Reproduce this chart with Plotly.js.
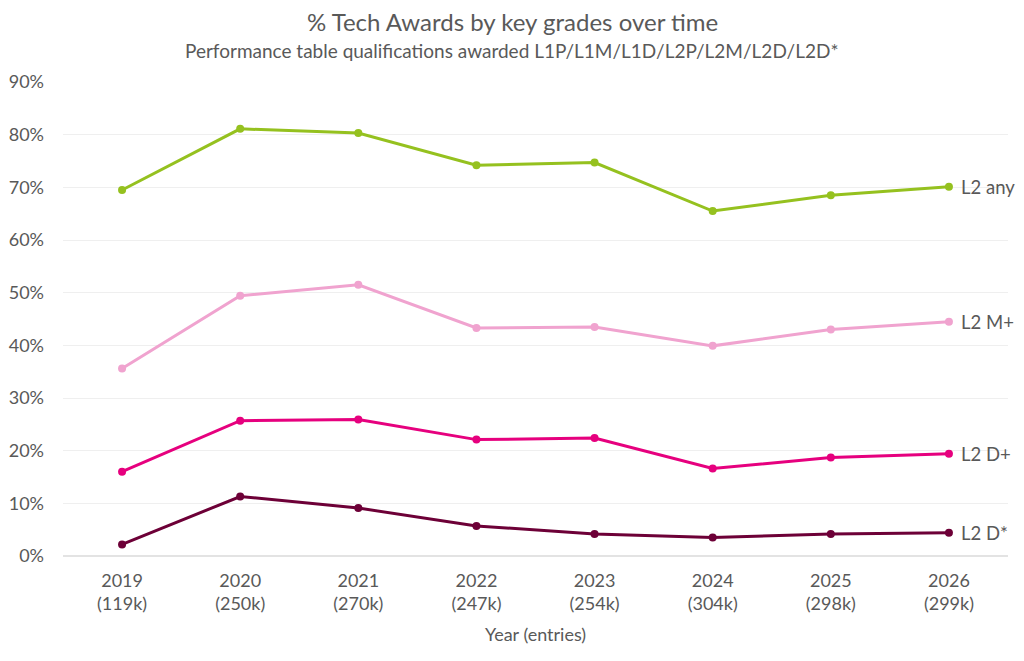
<!DOCTYPE html>
<html>
<head>
<meta charset="utf-8">
<script src="https://cdn.plot.ly/plotly-3.0.1.min.js"></script>
<style>
  html, body { margin: 0; padding: 0; background: #fff; }
  #chart { width: 1024px; height: 661px; }
</style>
</head>
<body>
<div id="chart"></div>
<script>
const years = ['2019', '2020', '2021', '2022', '2023', '2024', '2025', '2026'];
const entries = ['119k', '250k', '270k', '247k', '254k', '304k', '298k', '299k'];

const l2Any = [0.695, 0.811, 0.803, 0.742, 0.747, 0.655, 0.685, 0.701];
const l2Merit = [0.356, 0.494, 0.515, 0.433, 0.435, 0.399, 0.430, 0.445];
const l2Dist = [0.160, 0.257, 0.259, 0.221, 0.224, 0.166, 0.187, 0.194];
const l2DistStar = [0.022, 0.113, 0.091, 0.057, 0.042, 0.035, 0.042, 0.044];

const seriesNames = ['L2 any', 'L2 M+', 'L2 D+', 'L2 D*'];
const seriesValues = [l2Any, l2Merit, l2Dist, l2DistStar];
const seriesColors = ['#95c11f', '#f0a3cf', '#e6007e', '#6d0037'];

const font = 'Lato, "Open Sans", sans-serif';
const textGrey = '#595959';

const traces = seriesValues.map((vals, i) => ({
    x: years,
    y: vals,
    type: 'scatter',
    mode: 'lines+markers',
    name: seriesNames[i],
    line: { color: seriesColors[i], width: 3 },
    marker: { color: seriesColors[i], size: 8 },
    cliponaxis: false,
    hoverinfo: 'skip'
}));

// series names at the end of each line (x as category index)
const lastIdx = years.length - 1;
const labels = seriesValues.map((vals, i) => ({
    xref: 'x',
    yref: 'y',
    x: lastIdx,
    y: vals[lastIdx],
    text: seriesNames[i],
    showarrow: false,
    xanchor: 'left',
    yanchor: 'middle',
    xshift: 10,
    font: { family: font, size: 18.5, color: textGrey }
}));

// titles centred on the page, not on the plot area
const pageCentre = (512 - 63) / 945;
const titles = [
    {
        xref: 'paper', yref: 'paper', x: pageCentre, y: 1.1266,
        xanchor: 'center', yanchor: 'middle', showarrow: false,
        text: '% Tech Awards by key grades over time',
        font: { family: font, size: 24, color: textGrey }
    },
    {
        xref: 'paper', yref: 'paper', x: pageCentre, y: 1.0675,
        xanchor: 'center', yanchor: 'middle', showarrow: false,
        text: 'Performance table qualifications awarded L1P/L1M/L1D/L2P/L2M/L2D/L2D*',
        font: { family: font, size: 19, color: textGrey }
    }
];

const layout = {
    width: 1024,
    height: 661,
    margin: { t: 82, b: 105, l: 63, r: 16 },
    paper_bgcolor: '#fff',
    plot_bgcolor: '#fff',
    font: { family: font, color: textGrey },
    showlegend: false,
    xaxis: {
        type: 'category',
        range: [-0.5, 7.5],
        tickvals: years,
        ticktext: years.map((y, i) => `${y}<br>(${entries[i]})`),
        tickfont: { family: font, size: 18, color: textGrey },
        showgrid: false,
        zeroline: false,
        showline: false,
        ticks: '',
        ticklabelstandoff: 12,
        title: { text: 'Year (entries)', font: { family: font, size: 18, color: textGrey }, standoff: 14 }
    },
    yaxis: {
        range: [0, 0.9],
        dtick: 0.1,
        tickformat: '.0%',
        tickfont: { family: font, size: 18, color: textGrey },
        gridcolor: '#efefef',
        gridwidth: 1,
        zeroline: true,
        zerolinecolor: '#e3e3e3',
        zerolinewidth: 2,
        showline: false,
        ticks: '',
        ticklabelstandoff: 18
    },
    annotations: titles.concat(labels)
};

Plotly.newPlot('chart', traces, layout, { displayModeBar: false, staticPlot: true });
</script>
</body>
</html>
